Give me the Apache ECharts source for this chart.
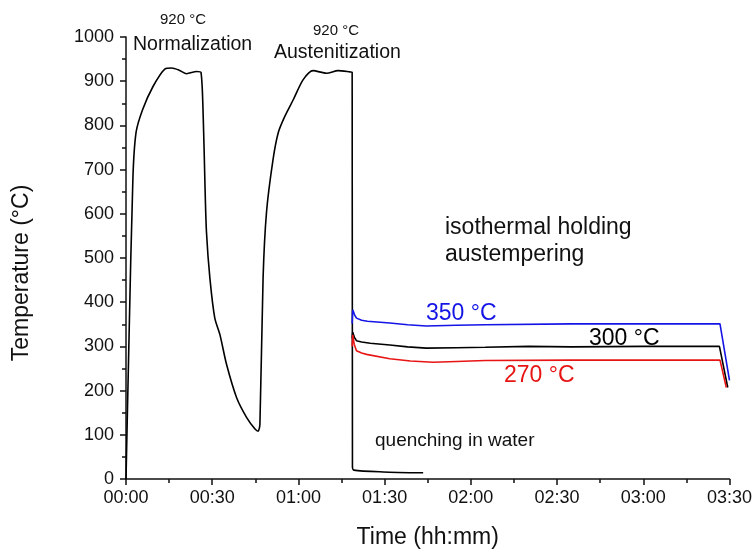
<!DOCTYPE html>
<html>
<head>
<meta charset="utf-8">
<script src="https://cdn.jsdelivr.net/npm/echarts@6/dist/echarts.min.js"></script>
<style>
  html, body { margin: 0; padding: 0; background: #fff; }
  #chart { width: 755px; height: 554px; }
</style>
</head>
<body>
<div id="chart"></div>
<script>
// time in minutes, temperature in °C
var heatCurve = [
  [0, 0], [1.0, 304], [2.4, 680], [3.5, 784], [5.8, 836], [9.4, 888],
  [13.6, 928], [15.9, 930], [18.5, 925], [21.1, 917], [24.6, 922], [26.1, 920],
  [26.9, 813], [27.5, 660], [28.0, 559], [29.2, 454], [30.9, 364], [32.7, 326],
  [35.0, 259], [38.5, 184], [42.0, 139], [44.9, 113], [46.0, 108],
  [46.6, 124], [47.7, 454], [48.9, 604], [51.2, 724], [53.0, 784],
  [55.3, 821], [58.2, 858], [61.6, 903], [65.1, 924], [69.8, 918],
  [73.8, 924], [77.9, 921], [78.7, 920],
  [78.8, 27], [79.3, 20], [89.5, 16], [103.4, 14]
];
var curve350 = [
  [78.7, 352], [78.9, 383], [79.5, 372], [80.2, 364], [82, 359], [84, 357],
  [91.8, 353], [98, 349], [104.5, 346], [115, 348], [125, 349], [155, 351],
  [206.7, 351], [210, 223]
];
var curve300 = [
  [78.7, 318], [78.9, 332], [79.5, 320], [80.2, 313], [82, 310], [85, 307],
  [91.8, 303], [98, 299], [104.5, 296], [115, 297], [125, 298], [140, 300],
  [155, 299], [180, 300], [206.5, 300], [209.4, 207]
];
var curve270 = [
  [78.7, 300], [78.9, 326], [79.4, 305], [80.2, 290], [82, 285], [83.7, 282],
  [91.8, 272], [99, 267], [106.9, 264], [115, 266], [125, 268], [155, 269],
  [206.7, 269], [208.9, 207]
];

var fontFam = '"Liberation Sans", Arial, sans-serif';

function hhmm(v) {
  var h = Math.floor(v / 60), m = v % 60;
  return (h < 10 ? '0' : '') + h + ':' + (m < 10 ? '0' : '') + m;
}

function lineSeries(name, data, color, smooth) {
  return {
    name: name,
    type: 'line',
    data: data,
    showSymbol: false,
    smooth: smooth,
    lineStyle: { color: color, width: 1.6 },
    itemStyle: { color: color },
    animation: false
  };
}

function label(text, x, y, size, color) {
  return {
    type: 'text',
    left: x,
    top: y,
    style: { text: text, font: size + 'px ' + fontFam, fill: color || '#111' }
  };
}

var option = {
  backgroundColor: '#fff',
  grid: { left: 126, right: 25, top: 37, bottom: 72 },
  xAxis: {
    type: 'value',
    min: 0, max: 210, interval: 30,
    name: 'Time (hh:mm)',
    nameLocation: 'middle',
    nameGap: 47,
    nameTextStyle: { fontSize: 23, color: '#111', fontFamily: fontFam },
    axisLine: { lineStyle: { color: '#111', width: 1.5 } },
    axisTick: { length: 6, lineStyle: { color: '#111', width: 1.5 } },
    minorTick: { show: true, splitNumber: 2, length: 4, lineStyle: { color: '#111', width: 1.5 } },
    axisLabel: { fontSize: 18, color: '#111', fontFamily: fontFam, margin: 10, formatter: hhmm },
    splitLine: { show: false }
  },
  yAxis: {
    type: 'value',
    min: 0, max: 1000, interval: 100,
    axisLine: { show: true, lineStyle: { color: '#111', width: 1.5 } },
    axisTick: { show: true, length: 6, lineStyle: { color: '#111', width: 1.5 } },
    minorTick: { show: true, splitNumber: 2, length: 4, lineStyle: { color: '#111', width: 1.5 } },
    axisLabel: { fontSize: 18, color: '#111', fontFamily: fontFam, margin: 12, formatter: function (v) { return String(v); } },
    splitLine: { show: false }
  },
  series: [
    lineSeries('heat', heatCurve, '#000', 0.25),
    lineSeries('350', curve350, '#1414e6', false),
    lineSeries('300', curve300, '#000', false),
    lineSeries('270', curve270, '#e81414', false)
  ],
  graphic: [
    {
      type: 'text',
      x: 22, y: 273,
      rotation: Math.PI / 2,
      style: {
        text: 'Temperature (°C)', font: '23px ' + fontFam, fill: '#111',
        textAlign: 'center', textVerticalAlign: 'middle'
      }
    },
    label('920 °C', 160, 12, 15),
    label('Normalization', 133, 35, 19.5),
    label('920 °C', 313, 23, 15),
    label('Austenitization', 274, 43, 19.5),
    label('isothermal holding', 445, 216, 23),
    label('austempering', 445, 243, 23),
    label('350 °C', 426, 302, 23, '#1414e6'),
    label('300 °C', 589, 327, 23, '#000'),
    label('270 °C', 504, 364, 23, '#e81414'),
    label('quenching in water', 375, 431, 19)
  ]
};

var chart = echarts.init(document.getElementById('chart'), null, { renderer: 'canvas' });
chart.setOption(option);
</script>
</body>
</html>
